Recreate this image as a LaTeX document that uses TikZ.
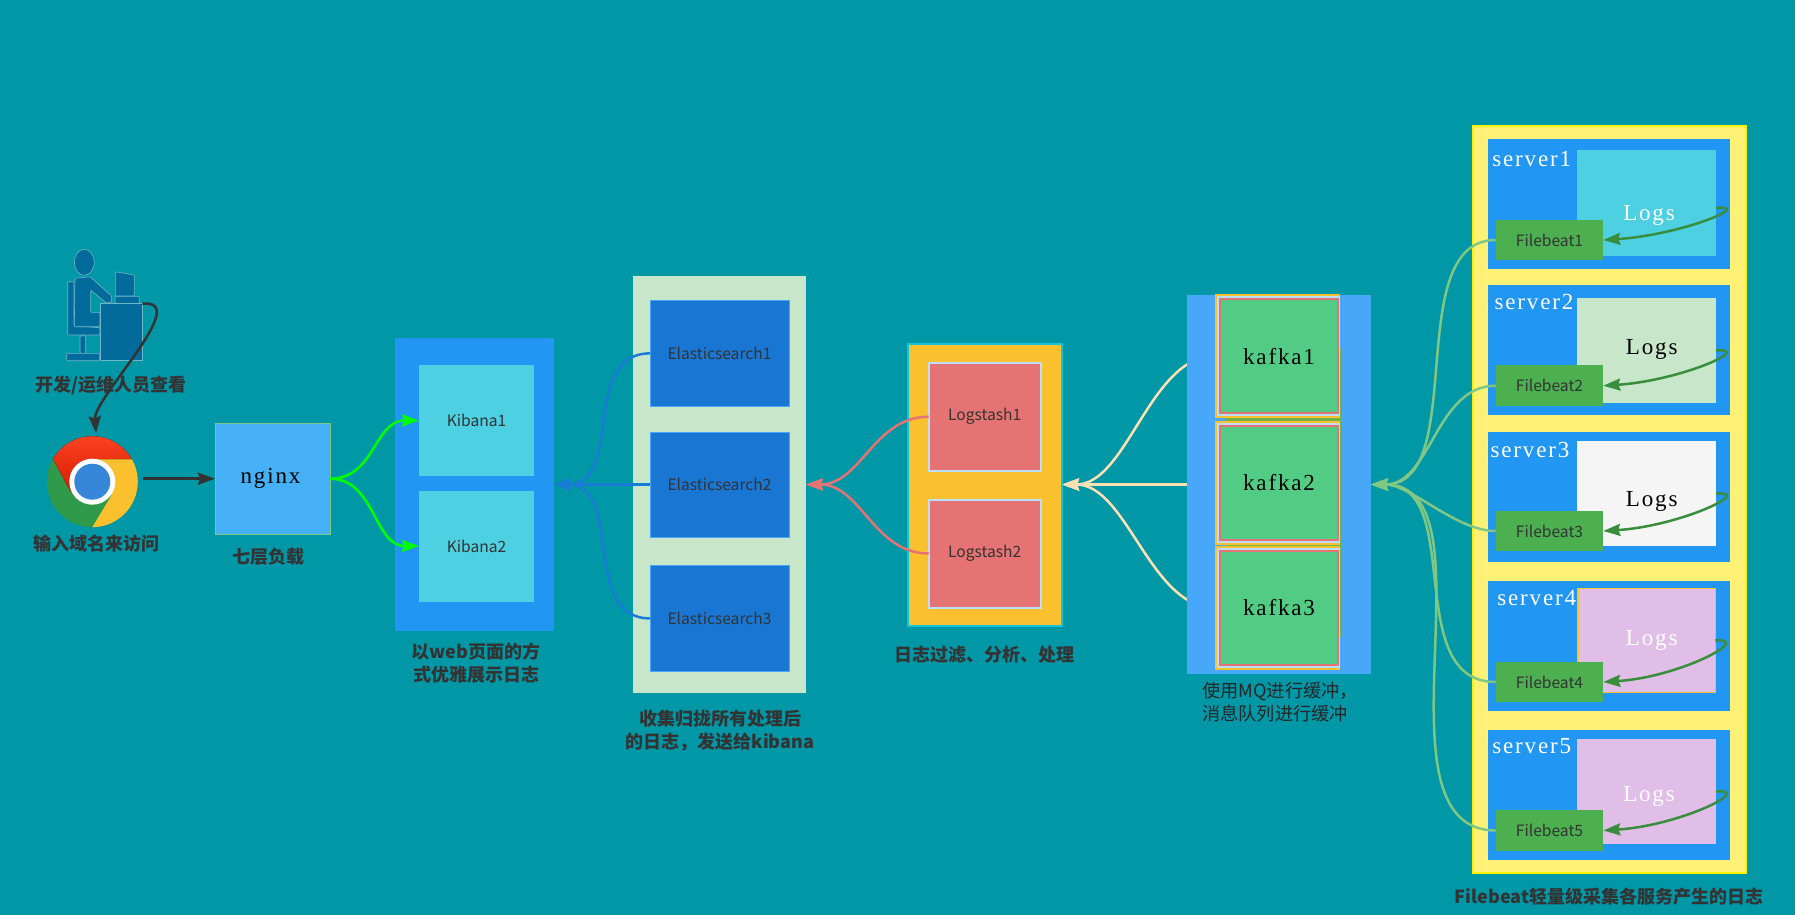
\documentclass[tikz,border=0pt]{standalone}
\usepackage{fontspec}
\setmainfont{Noto Sans CJK SC}
\newfontfamily\simfont[LetterSpace=8]{Liberation Serif}
\usetikzlibrary{arrows.meta,backgrounds}
\definecolor{bgteal}{HTML}{0097A7}
\definecolor{textdark}{HTML}{333333}
\definecolor{kbblue}{HTML}{2196F3}
\definecolor{kbcyan}{HTML}{4DD0E1}
\definecolor{ngblue}{HTML}{45B0F6}
\definecolor{esgreen}{HTML}{C8E6C9}
\definecolor{esblue}{HTML}{1976D2}
\definecolor{lsyellow}{HTML}{FBC02D}
\definecolor{lsred}{HTML}{E57373}
\definecolor{lsedge}{HTML}{BBDEFB}
\definecolor{kfblue}{HTML}{47A7F9}
\definecolor{kfgreen}{HTML}{52CC85}
\definecolor{fbyellow}{HTML}{FFF176}
\definecolor{fbgreen}{HTML}{4CAF50}
\definecolor{fbline}{HTML}{81C784}
\definecolor{lgpurple}{HTML}{E1BEE7}
\definecolor{lgarrow}{HTML}{388E3C}
\definecolor{creamline}{HTML}{FFE0B2}
\definecolor{persona}{HTML}{036A9C}
\definecolor{personb}{HTML}{6FB7C8}
\definecolor{crgreen}{HTML}{2F9A4A}
\tikzset{
  box/.style={rectangle, inner sep=0, outer sep=0},
  smalltext/.style={text=textdark, font=\fontsize{15.6}{20}\selectfont},
  monotext/.style={font=\simfont\fontsize{23}{26}\selectfont},
  caption/.style={inner sep=0, text=textdark, align=center, font=\bfseries\fontsize{18}{23}\selectfont},
  kibanacell/.style={box, fill=kbcyan, minimum width=115, minimum height=111, smalltext},
  escell/.style={box, fill=esblue, draw=kfblue, line width=0.6, minimum width=139, minimum height=105.3, smalltext},
  lscell/.style={box, fill=lsred, draw=lsedge, line width=2, minimum width=112, minimum height=108, smalltext},
  kfcella/.style={box, fill=lsyellow, minimum width=125, minimum height=123.7},
  kfcellb/.style={box, fill=lsedge, minimum width=123, minimum height=120},
  kfcellc/.style={box, fill=lsred, minimum width=119.4, minimum height=116},
  kfcelld/.style={box, fill=kfgreen, minimum width=115.4, minimum height=112, monotext, text=black},
  serverbox/.style={box, fill=kbblue, minimum width=242.6, minimum height=130},
  logsbox/.style={box, minimum width=139, minimum height=105.5},
  beatbox/.style={box, fill=fbgreen, minimum width=107.6, minimum height=40.6, smalltext},
  person/.style={fill=persona, draw=personb, line width=0.6, rounded corners=1},
  tip/.style={-{Stealth[length=17pt,width=12pt,inset=2pt]}, line width=#1},
  tip/.default=2.5
}
\begin{document}
\begin{tikzpicture}[x=1pt,y=-1pt]
    \begin{scope}[on background layer]
        \fill[bgteal] (0,0) rectangle (1795,915);
    \end{scope}
    \useasboundingbox (0,0) rectangle (1795,915);

    % Person at the desk
    \draw[person] (84.3,262.3) ellipse (10 and 13);
    \draw[person] (67.7,281.7) -- (74,281.7) -- (74,326) -- (100,327.7) -- (100,335) -- (67.7,335) -- cycle;
    \draw[person] (75,278.3) -- (90,276.7) -- (111.7,296) -- (111.7,301.7) -- (106.7,303.3) -- (90.7,290) -- (90.7,312.3) -- (100,312.3) -- (100,326.7) -- (74.3,326.7) -- cycle;
    \draw[person] (80,335.7) -- (85.7,335.7) -- (85.7,353.3) -- (80,353.3) -- cycle;
    \draw[person] (66.7,353.3) -- (99.3,353.3) -- (99.3,360.7) -- (66.7,360.7) -- cycle;
    \draw[person] (115.3,271.7) -- (134.3,275) -- (134.3,296) -- (115.3,296) -- cycle;
    \draw[person] (115,296.3) -- (139.3,296.3) -- (139.3,303.3) -- (115,303.3) -- cycle;
    \node[box, fill=persona, draw=personb, line width=0.6, minimum width=42, minimum height=57] (desk) at (121.3,332.2) {};
    \node[caption] (devlabel) at (111,385) {开发/运维人员查看};

    % Chrome logo
    \node[circle, inner sep=0, outer sep=0, fill=crgreen, minimum size=91] (chrome) at (92.3,481.7) {};
    \begin{scope}
        \clip (92.3,481.7) circle (45.5);
        \fill[top color=red!70!orange!85!white, bottom color=red!75!orange!85!black] (53.3,459.3) -- (40,430) -- (145,430) -- (145,459.3) -- (92.3,459.3) -- (92.3,481.7) -- (70.7,491.7) -- cycle;
        \fill[lsyellow] (92.3,459.3) -- (145,459.3) -- (145,540) -- (92.3,527.3) -- (111.7,495) -- (92.3,481.7) -- cycle;
    \end{scope}
    \fill[white] (chrome.center) circle (23);
    \fill[blue!50!cyan!75!white!85!black] (chrome.center) circle (18);
    \node[caption] (urllabel) at (96.5,544) {输入域名来访问};

    % Nginx
    \node[box, fill=ngblue, draw=fbline, line width=0.6, minimum width=115, minimum height=111, monotext, text=black] (nginx) at (272.5,478.7) {\hspace{-4pt}nginx};
    \node[caption] (nginxlabel) at (268.5,556.7) {七层负载};

    % Kibana
    \node[box, fill=kbblue, minimum width=159, minimum height=293] (kibanabox) at (474.5,484.5) {};
    \node[kibanacell] (kibana1) at (476.5,420.5) {Kibana1};
    \node[kibanacell] (kibana2) at (476.5,546) {Kibana2};
    \node[caption] (kibanalabel) at (476,663.5) {以web页面的方\\式优雅展示日志};

    % Elasticsearch
    \node[box, fill=esgreen, minimum width=173, minimum height=416.6] (esbox) at (719.5,484.5) {};
    \node[escell] (es1) at (719.5,353.4) {Elasticsearch1};
    \node[escell] (es2) at (719.5,484.5) {Elasticsearch2};
    \node[escell] (es3) at (719.5,618.4) {Elasticsearch3};
    \node[caption] (eslabel) at (720,730.5) {收集归拢所有处理后\\的日志，发送给kibana};

    % Logstash
    \node[box, fill=lsyellow, draw=kfblue!40!bgteal!60!cyan, line width=2, minimum width=154, minimum height=282] (lsbox) at (985,484.5) {};
    \node[lscell] (ls1) at (984.7,416.7) {Logstash1};
    \node[lscell] (ls2) at (984.7,553.5) {Logstash2};
    \node[caption] (lslabel) at (984,655) {日志过滤、分析、处理};

    % Kafka
    \node[box, fill=kfblue, minimum width=184.3, minimum height=379] (kfbox) at (1278.85,484.5) {};
    \node[box, fill=fbgreen!80!lsyellow, minimum width=115.7, minimum height=288.7] (kfback) at (1283.85,492.35) {};
    \node[kfcella] (kafka1a) at (1277.5,355.85) {};
    \node[kfcellb] (kafka1b) at (1278.5,355.85) {};
    \node[kfcellc] (kafka1c) at (1279,355.85) {};
    \node[kfcelld, text height=17pt] (kafka1) at (1279,355.85) {kafka1};
    \node[kfcella] (kafka2a) at (1277.5,483) {};
    \node[kfcellb] (kafka2b) at (1278.5,483) {};
    \node[kfcellc] (kafka2c) at (1279,483) {};
    \node[kfcelld] (kafka2) at (1279,483) {kafka2};
    \node[kfcella] (kafka3a) at (1277.5,607.9) {};
    \node[kfcellb] (kafka3b) at (1278.5,607.9) {};
    \node[kfcellc] (kafka3c) at (1279,607.9) {};
    \node[kfcelld] (kafka3) at (1279,607.9) {kafka3};
    \node[inner sep=0, anchor=west, align=left, text=black!85, font=\fontsize{18.2}{22.7}\selectfont] (kflabel) at (1202,702) {使用MQ进行缓冲，\\消息队列进行缓冲};

    % Filebeat servers
    \node[box, fill=fbyellow, draw=yellow, line width=2, minimum width=273, minimum height=747] (fbbox) at (1609.2,499.5) {};

    \node[serverbox] (server1) at (1609,204) {};
    \node[logsbox, fill=kbcyan] (logs1) at (1646.5,202.85) {};
    \node[beatbox] (beat1) at (1549.5,240) {Filebeat1};
    \node[monotext, text=white, inner sep=0] (srvname1) at (1531.7,159) {server1};
    \node[monotext, text=white, inner sep=0] (logname1) at (1649,215) {Logs};

    \node[serverbox] (server2) at (1609,350.3) {};
    \node[logsbox, fill=esgreen] (logs2) at (1646.5,350.5) {};
    \node[beatbox] (beat2) at (1549.5,385.7) {Filebeat2};
    \node[monotext, text=white, inner sep=0] (srvname2) at (1534,301.7) {server2};
    \node[monotext, text=black, inner sep=0] (logname2) at (1651.7,349.5) {Logs};

    \node[serverbox] (server3) at (1609,496.8) {};
    \node[logsbox, fill=black!4] (logs3) at (1646.5,493.6) {};
    \node[beatbox] (beat3) at (1549.5,531) {Filebeat3};
    \node[monotext, text=white, inner sep=0] (srvname3) at (1530,450) {server3};
    \node[monotext, text=black, inner sep=0] (logname3) at (1651.7,501) {Logs};

    \node[serverbox] (server4) at (1609,646) {};
    \node[logsbox, fill=lgpurple, draw=lsyellow, line width=1.5, minimum width=137.5, minimum height=104] (logs4) at (1646.5,640.5) {};
    \node[beatbox] (beat4) at (1549.5,682) {Filebeat4};
    \node[monotext, text=white, inner sep=0] (srvname4) at (1536.7,598.3) {server4};
    \node[monotext, text=white, inner sep=0] (logname4) at (1651.7,640) {Logs};

    \node[serverbox] (server5) at (1609,795) {};
    \node[logsbox, fill=lgpurple] (logs5) at (1646.5,791.5) {};
    \node[beatbox] (beat5) at (1549.5,830.5) {Filebeat5};
    \node[monotext, text=white, inner sep=0] (srvname5) at (1531.7,746) {server5};
    \node[monotext, text=white, inner sep=0] (logname5) at (1649,796) {Logs};

    \node[caption] (fblabel) at (1609,896.7) {Filebeat轻量级采集各服务产生的日志};

    % Arrows from the left
    \draw[tip, textdark, shorten >=3] (desk.north east) .. controls +(51,-5) and +(-3,-38) .. ([xshift=4pt]chrome.north);
    \draw[tip, textdark, shorten <=5] (chrome.east |- nginx.west) -- (nginx.west);
    \draw[tip, green] (nginx.east) .. controls +(45,0) and +(-45,0) .. (kibana1.west);
    \draw[tip, green] (nginx.east) .. controls +(45,0) and +(-45,0) .. (kibana2.west);

    % Into Kibana
    \draw[tip, esblue!85!kbblue] (es1.west) .. controls +(-70,0) and +(70,0) .. (kibanabox.east);
    \draw[tip, esblue!85!kbblue] (es2.west) -- (kibanabox.east);
    \draw[tip, esblue!85!kbblue] (es3.west) .. controls +(-70,0) and +(70,0) .. (kibanabox.east);

    % Into Elasticsearch
    \draw[tip, lsred] (ls1.west) .. controls +(-55,0) and +(55,0) .. (esbox.east);
    \draw[tip, lsred] (ls2.west) .. controls +(-55,0) and +(55,0) .. (esbox.east);

    % Into Logstash, hidden behind the Kafka box
    \begin{scope}[on background layer]
        \draw[tip, creamline] (kafka1a.west) .. controls +(-65,0) and +(65,0) .. (lsbox.east);
        \draw[tip, creamline] (kafka2a.west |- lsbox.east) -- (lsbox.east);
        \draw[tip, creamline] (kafka3a.west) .. controls +(-65,0) and +(65,0) .. (lsbox.east);
    \end{scope}

    % Into Kafka
    \draw[tip, fbline] (beat1.west) .. controls +(-95,0) and +(99,0) .. (kfbox.east);
    \draw[tip, fbline] (beat2.west) .. controls +(-60,0) and +(60,0) .. (kfbox.east);
    \draw[tip, fbline] (beat3.west) .. controls +(-40,0) and +(40,0) .. (kfbox.east);
    \draw[tip, fbline] (beat4.west) .. controls +(-95,0) and +(95,0) .. (kfbox.east);
    \draw[tip, fbline] (beat5.west) .. controls +(-130,0) and +(129,0) .. (kfbox.east);

    % Logs into Filebeat
    \draw[tip, lgarrow] ([yshift=-5pt]logs1.east) .. controls +(39,-3) and +(77,-5) .. (beat1.east);
    \draw[tip, lgarrow] (logs2.east) .. controls +(39,-3) and +(77,-5) .. (beat2.east);
    \draw[tip, lgarrow] (logs3.east) .. controls +(39,-3) and +(77,-5) .. (beat3.east);
    \draw[tip, lgarrow] (logs4.east) .. controls +(39,-3) and +(77,-5) .. (beat4.east);
    \draw[tip, lgarrow] (logs5.east) .. controls +(39,-3) and +(77,-5) .. (beat5.east);
\end{tikzpicture}
\end{document}
